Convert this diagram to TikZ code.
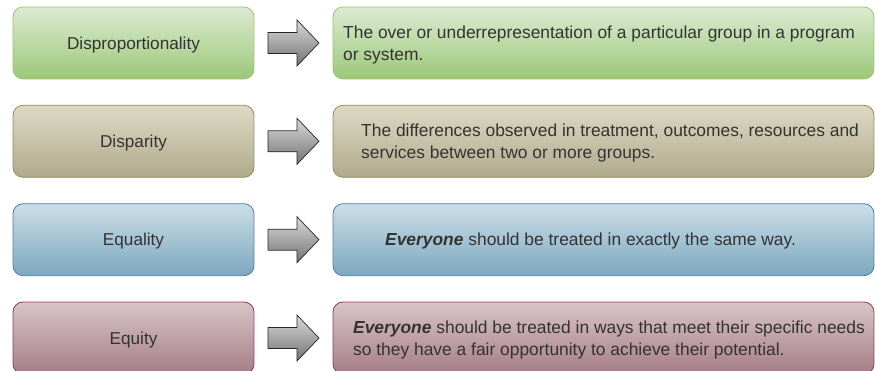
\documentclass[tikz,border=0pt]{standalone}
\usepackage{fontspec}
\setmainfont{Liberation Sans}
\usetikzlibrary{calc}
\definecolor{txt}{HTML}{333333}
\definecolor{gTop}{HTML}{DCEBD2}\definecolor{gBot}{HTML}{9BC878}\definecolor{gBd}{HTML}{A5C06A}
\definecolor{tTop}{HTML}{DDD9C4}\definecolor{tBot}{HTML}{B0AA8C}\definecolor{tBd}{HTML}{948A54}
\definecolor{bTop}{HTML}{CBDEE6}\definecolor{bBot}{HTML}{7DA8C0}\definecolor{bBd}{HTML}{4A7EA8}
\definecolor{mTop}{HTML}{D7C5C8}\definecolor{mBot}{HTML}{A57D85}\definecolor{mBd}{HTML}{983752}
\tikzset{
  box/.style={rounded corners=10pt, line width=0.8pt, minimum height=72pt, inner sep=0pt},
  lbox/.style={box, minimum width=241pt, font=\fontsize{17.2}{21}\selectfont, text=txt, text depth=0pt},
  rbox/.style={box, minimum width=541pt},
  desc/.style={anchor=west, align=left, inner sep=0pt, font=\fontsize{17.4}{22}\selectfont, text=txt},
  green/.style={draw=gBd, top color=gTop, bottom color=gBot},
  tan/.style={draw=tBd, top color=tTop, bottom color=tBot},
  blue/.style={draw=bBd, top color=bTop, bottom color=bBot},
  maroon/.style={draw=mBd, top color=mTop, bottom color=mBot},
  blockarrow/.style={draw=black!85, line width=0.7pt, top color=black!15, bottom color=black!55, line join=miter}
}
\newcommand{\blockarr}[1]{%
  \draw[blockarrow] ($(#1)+(-25.5,-10.5)$) -- ($(#1)+(3.5,-10.5)$) -- ($(#1)+(3.5,-23)$)
    -- ($(#1)+(25.5,0)$) -- ($(#1)+(3.5,23)$) -- ($(#1)+(3.5,10.5)$) -- ($(#1)+(-25.5,10.5)$) -- cycle;}
\begin{document}
\begin{tikzpicture}[x=1pt,y=-1pt]
\useasboundingbox (0,0) rectangle (875,371);
\clip (0,0) rectangle (875,371);
% left boxes
\node[lbox, green]  (l1) at (133.5,43)    {Disproportionality};
\node[lbox, tan]    (l2) at (133.5,141.3) {Disparity};
\node[lbox, blue]   (l3) at (133.5,239.7) {Equality};
\node[lbox, maroon] (l4) at (133.5,338)   {Equity};
% right boxes
\node[rbox, green]  (r1) at (603.5,43)    {};
\node[rbox, tan]    (r2) at (603.5,141.3) {};
\node[rbox, blue]   (r3) at (603.5,239.7) {};
\node[rbox, maroon] (r4) at (603.5,338)   {};
% texts
\node[desc] (t1) at (343,45.5)  {The over or underrepresentation of a particular group in a program\\or system.};
\node[desc] (t2) at (361,143)   {The differences observed in treatment, outcomes, resources and\\services between two or more groups.};
\node[desc] (t3) at (385,241.5) {\textbf{\textit{Everyone}} should be treated in exactly the same way.};
\node[desc] (t4) at (353,340)   {\textbf{\textit{Everyone}} should be treated in ways that meet their specific needs\\so they have a fair opportunity to achieve their potential.};
% arrows
\foreach \i in {1,2,3,4}{
  \path (l\i.east) -- (r\i.west) coordinate[midway] (m\i);
  \blockarr{m\i}
}
\end{tikzpicture}
\end{document}
